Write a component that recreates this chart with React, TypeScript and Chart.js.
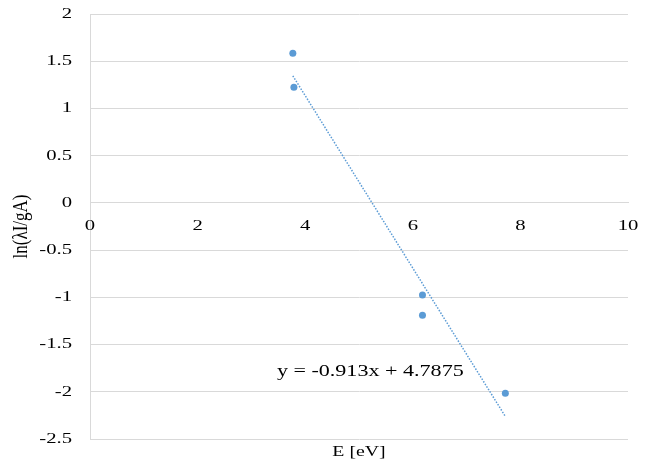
import React, { useEffect, useRef } from "react";
import { Chart, registerables } from "chart.js";

Chart.register(...registerables);

// Measured excitation energies and Boltzmann-plot ordinates
const energyEV = [3.77, 3.79, 6.18, 6.18, 7.72];
const lnIntensity = [1.585, 1.225, -0.975, -1.19, -2.015];

// Linear fit y = slope * x + intercept
const fitSlope = -0.913;
const fitIntercept = 4.7875;
const fitLabel = "y = -0.913x + 4.7875";
const fitLabelAt = { x: 5.21, y: -1.79 };

const xTitle = "E [eV]";
const yTitle = "ln(λI/gA)";

const FONT = "'Liberation Serif', 'Times New Roman', serif";
const BLUE = "#5B9BD5";
const GRID = "#d9d9d9";
// Wide rendering of the serif text
const STRETCH = 1.38;

function wideText(ctx: CanvasRenderingContext2D, text: string, x: number, y: number, align: CanvasTextAlign, size: number, stretch = STRETCH) {
  ctx.save();
  ctx.font = `${size}px ${FONT}`;
  ctx.textAlign = align;
  ctx.textBaseline = "middle";
  ctx.fillStyle = "#000";
  ctx.translate(x, y);
  ctx.scale(stretch, 1);
  ctx.fillText(text, 0, 0);
  ctx.restore();
}

export default function App() {
  const canvasRef = useRef<HTMLCanvasElement | null>(null);

  useEffect(() => {
    const canvas = canvasRef.current;
    if (!canvas) return;

    const points = energyEV.map((x, i) => ({ x, y: lnIntensity[i] }));
    const xMin = Math.min(...energyEV);
    const xMax = Math.max(...energyEV);
    const fitPoints = [xMin, xMax].map((x) => ({ x, y: fitSlope * x + fitIntercept }));

    const annotations = {
      id: "annotations",
      afterDraw(chart: any) {
        const { ctx, chartArea, scales } = chart;
        const xs = scales.x;
        const ys = scales.y;
        const zeroY = ys.getPixelForValue(0);

        // tick labels
        ys.ticks.forEach((t: any) => {
          wideText(ctx, String(t.value), chartArea.left - 18, ys.getPixelForValue(t.value), "right", 15);
        });
        xs.ticks.forEach((t: any) => {
          wideText(ctx, String(t.value), xs.getPixelForValue(t.value), zeroY + 23, "center", 15);
        });

        // fit equation
        wideText(ctx, fitLabel, xs.getPixelForValue(fitLabelAt.x), ys.getPixelForValue(fitLabelAt.y), "center", 16, 1.38);

        // axis titles
        wideText(ctx, xTitle, (chartArea.left + chartArea.right) / 2, 452, "center", 15, 1.32);
        ctx.save();
        ctx.font = `17px ${FONT}`;
        ctx.textAlign = "center";
        ctx.textBaseline = "middle";
        ctx.fillStyle = "#000";
        ctx.translate(22, (chartArea.top + chartArea.bottom) / 2);
        ctx.rotate(-Math.PI / 2);
        ctx.scale(1, 1.2);
        ctx.fillText(yTitle, 0, 0);
        ctx.restore();
      },
    };

    const chart = new Chart(canvas, {
      type: "scatter",
      data: {
        datasets: [
          {
            data: fitPoints,
            showLine: true,
            borderColor: BLUE,
            borderWidth: 1.5,
            borderDash: [1.5, 1.5],
            pointRadius: 0,
            fill: false,
          },
          {
            data: points,
            backgroundColor: BLUE,
            borderColor: BLUE,
            pointRadius: 3.5,
            borderWidth: 0,
          },
        ],
      },
      options: {
        animation: false,
        responsive: false,
        maintainAspectRatio: false,
        layout: { padding: { left: 0, right: 21, top: 14, bottom: 25 } },
        plugins: {
          legend: { display: false },
          tooltip: { enabled: false },
        },
        scales: {
          x: {
            type: "linear",
            position: { y: 0 },
            min: 0,
            max: 10,
            ticks: { stepSize: 2, display: false },
            grid: { display: false, drawTicks: false },
            border: { display: true, color: GRID, width: 1 },
          },
          y: {
            type: "linear",
            position: "left",
            min: -2.5,
            max: 2,
            ticks: { stepSize: 0.5, display: false },
            grid: { color: GRID, lineWidth: 1, drawTicks: false },
            border: { display: true, color: GRID, width: 1 },
            afterFit(scale: any) {
              scale.width = 90;
            },
          },
        },
      },
      plugins: [annotations],
    });

    return () => chart.destroy();
  }, []);

  return (
    <div style={{ position: "fixed", left: 0, top: 0, width: 649, height: 464, background: "#fff" }}>
      <canvas ref={canvasRef} width={649} height={464} />
    </div>
  );
}
